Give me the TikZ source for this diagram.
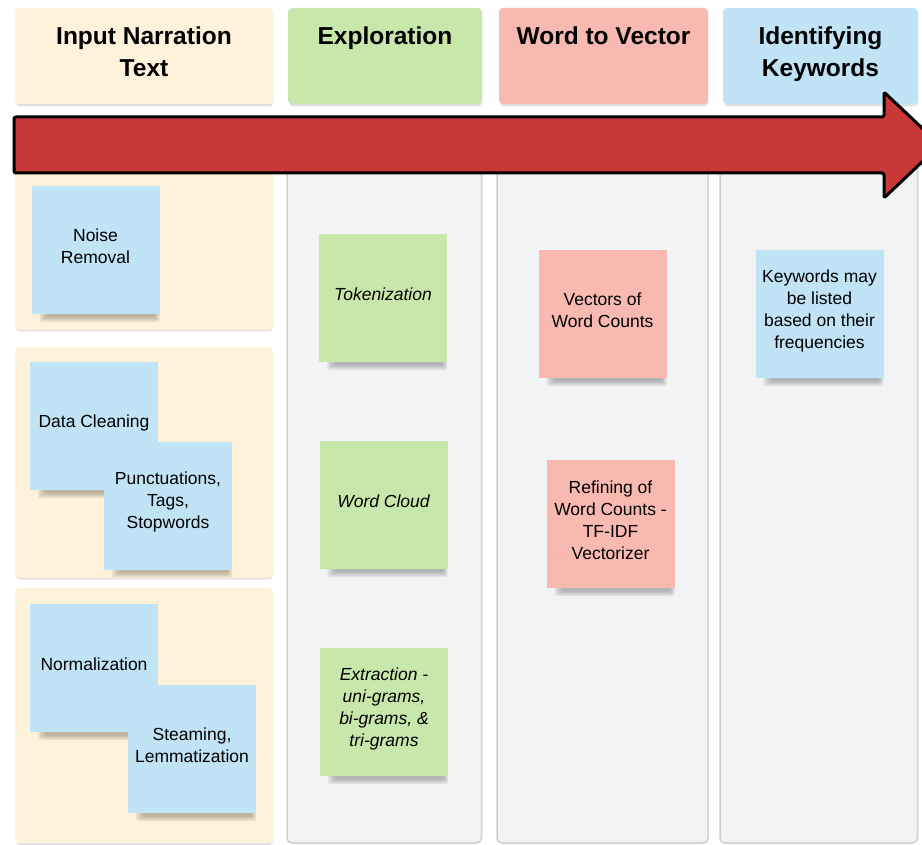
\documentclass[tikz,border=0pt]{standalone}
\usepackage{fontspec}
\setmainfont{Liberation Sans}
\definecolor{cream}{HTML}{FFF2DA}
\definecolor{hgreen}{HTML}{C7E7AB}
\definecolor{hpink}{HTML}{F8B9B0}
\definecolor{hblue}{HTML}{C0E3F6}
\definecolor{colgray}{HTML}{F2F3F5}
\definecolor{colborder}{HTML}{CFCFCF}
\definecolor{arrowred}{HTML}{C93838}
\newcommand\noteshadow[3]{%
  \foreach \d/\h in {0/8,2/6.5,4/5,7/3.5}{%
    \fill[black,opacity=0.07,rounded corners=2pt] ({#1+8+\d},{#3-2}) rectangle ({#2-\d*0.6},{#3+\h});}}
\newcommand\sticky[5]{%
  \noteshadow{#2-64}{#2+64}{#3+64}%
  \node[stickynote,fill=#4] (#1) at (#2,#3) {};
  \node[notetext] (#1-text) at (#2,#3-3.5) {#5};}
\begin{document}
\begin{tikzpicture}[x=1pt,y=-1pt,
  stickynote/.style={minimum width=128pt,minimum height=128pt,inner sep=0pt,outer sep=0pt},
  notetext/.style={inner sep=0pt,align=center,font=\fontsize{17.5}{22}\selectfont},
  hdrbox/.style={rounded corners=4pt,inner sep=0pt,outer sep=0pt,minimum height=96pt},
  hdrtext/.style={anchor=north,align=center,inner sep=0pt,font=\bfseries\fontsize{24.5}{32}\selectfont},
  colbox/.style={rounded corners=5pt,fill=colgray,draw=colborder,line width=1.5pt},
  panel/.style={rounded corners=4pt,fill=cream},
  panelshadow/.style={rounded corners=4pt,fill=black,opacity=0.12}]
\useasboundingbox (0,0) rectangle (922,845);
\clip (0,0) rectangle (922,845);
\fill[white] (0,0) rectangle (922,845);

% header boxes
\foreach \xa/\xb in {15/273,288/482,499/708,723/918}{
  \fill[panelshadow] (\xa+1,10) rectangle (\xb,106.5);}
\node[hdrbox,fill=cream,minimum width=258pt] (h1) at (144,56) {};
\node[hdrbox,fill=hgreen,minimum width=194pt] (h2) at (385,56) {};
\node[hdrbox,fill=hpink,minimum width=209pt] (h3) at (603.5,56) {};
\node[hdrbox,fill=hblue,minimum width=195pt] (h4) at (820.5,56) {};
\node[hdrtext] (t1) at (144,27) {Input Narration\\Text};
\node[hdrtext] (t2) at (385,27) {Exploration};
\node[hdrtext] (t3) at (603.5,27) {Word to Vector};
\node[hdrtext] (t4) at (820.5,27) {Identifying\\Keywords};

% column 1 panels
\fill[panelshadow] (16,150) rectangle (273,331.5);
\fill[panel] (15,150) rectangle (273,330);
\fill[panelshadow] (16,348) rectangle (273,579.5);
\fill[panel] (15,347) rectangle (273,578);
\fill[panelshadow] (16,589) rectangle (273,845);
\fill[panel] (15,588) rectangle (273,843);

% gray columns
\draw[colbox] (287,150) rectangle (481.5,843);
\draw[colbox] (497,150) rectangle (708,843);
\draw[colbox] (720,150) rectangle (917.5,843);

% sticky notes
\sticky{noise}{95.5}{250}{hblue}{Noise\\Removal}
\sticky{clean}{94}{426}{hblue}{Data Cleaning}
\sticky{punct}{168}{505.5}{hblue}{Punctuations,\\Tags,\\Stopwords}
\sticky{norm}{94}{668}{hblue}{Normalization}
\sticky{steam}{192}{749}{hblue}{Steaming,\\Lemmatization}
\sticky{token}{383}{298}{hgreen}{\itshape Tokenization}
\sticky{cloud}{383.5}{505}{hgreen}{\itshape Word Cloud}
\sticky{extract}{384}{712}{hgreen}{\itshape Extraction -\\\itshape uni-grams,\\\itshape bi-grams, \&\\\itshape tri-grams}
\sticky{vectors}{602.5}{314}{hpink}{Vectors of\\Word Counts}
\sticky{refine}{610.5}{524}{hpink}{Refining of\\Word Counts -\\TF-IDF\\Vectorizer}
\sticky{keys}{819.5}{314}{hblue}{Keywords may\\be listed\\based on their\\frequencies}

% big arrow
\draw[line width=3pt,line join=round,fill=arrowred,rounded corners=2pt]
  (14,117) -- (884,117) -- (884,92) -- (940,145) -- (884,198) -- (884,173) -- (14,173) -- cycle;
\end{tikzpicture}
\end{document}
